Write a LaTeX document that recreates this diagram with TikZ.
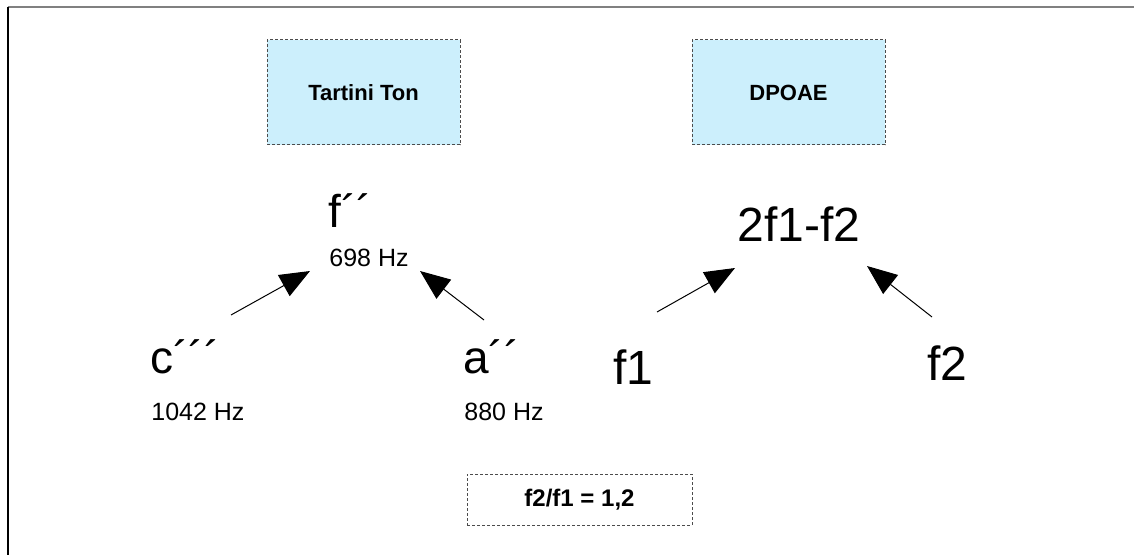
\documentclass[tikz,border=0pt]{standalone}
\usepackage{fontspec}
\setmainfont{Liberation Sans}
\usetikzlibrary{arrows.meta}

\begin{document}
\begin{tikzpicture}[x=0.5pt,y=-0.5pt,
  tone/.style={font=\fontsize{23}{27}\selectfont,inner sep=0pt,anchor=base west},
  hz/.style={font=\fontsize{12.5}{15}\selectfont,inner sep=0pt,anchor=base west},
  infobox/.style={draw=black!70,dash pattern=on 1.5pt off 1pt,line width=0.5pt,
    font=\bfseries\fontsize{11}{13}\selectfont},
  beat/.style={-{Triangle[length=15pt,width=12pt]},line width=0.5pt}]

\useasboundingbox (0,0) rectangle (1134,555);
\draw[gray,line width=1pt] (7.5,7.5) -- (1134,7.5);
\draw[line width=1pt] (7.5,7.5) -- (7.5,555);

% headings
\node[infobox,fill=cyan!20,minimum width=96.5pt,minimum height=52.5pt] (tartini) at (363.5,92.5) {Tartini Ton};
\node[infobox,fill=cyan!20,minimum width=96.5pt,minimum height=52.5pt] (dpoae) at (788.5,92.5) {DPOAE};

% left: tones and their difference tone
\node[tone] (f-tone) at (328,228) {f´´};
\node[hz] (f-hz) at (329,267) {698 Hz};
\node[tone] (c-tone) at (150,373) {c´´´};
\node[hz] (c-hz) at (151,420) {1042 Hz};
\node[tone] (a-tone) at (463,373) {a´´};
\node[hz] (a-hz) at (464,420) {880 Hz};

\coordinate (c-out) at (231,315);
\coordinate (f-in-left) at (310,271);
\coordinate (a-out) at (484,320);
\coordinate (f-in-right) at (420,271);
\draw[beat] (c-out) -- (f-in-left);
\draw[beat] (a-out) -- (f-in-right);

% right: primaries and the distortion product
\node[tone,font=\fontsize{24}{28}\selectfont] (dp) at (737,242) {2f1-f2};
\node[tone,font=\fontsize{24}{28}\selectfont] (f1) at (613,385) {f1};
\node[tone,font=\fontsize{24}{28}\selectfont] (f2) at (927,380) {f2};

\coordinate (f1-out) at (657,312);
\coordinate (dp-in-left) at (735,268);
\coordinate (f2-out) at (932,317);
\coordinate (dp-in-right) at (867,266);
\draw[beat] (f1-out) -- (dp-in-left);
\draw[beat] (f2-out) -- (dp-in-right);

\node[infobox,font=\bfseries\fontsize{12}{14}\selectfont,minimum width=112.5pt,minimum height=25.5pt] (ratio) at (579.5,499.5) {f2/f1 = 1,2};
\end{tikzpicture}
\end{document}
